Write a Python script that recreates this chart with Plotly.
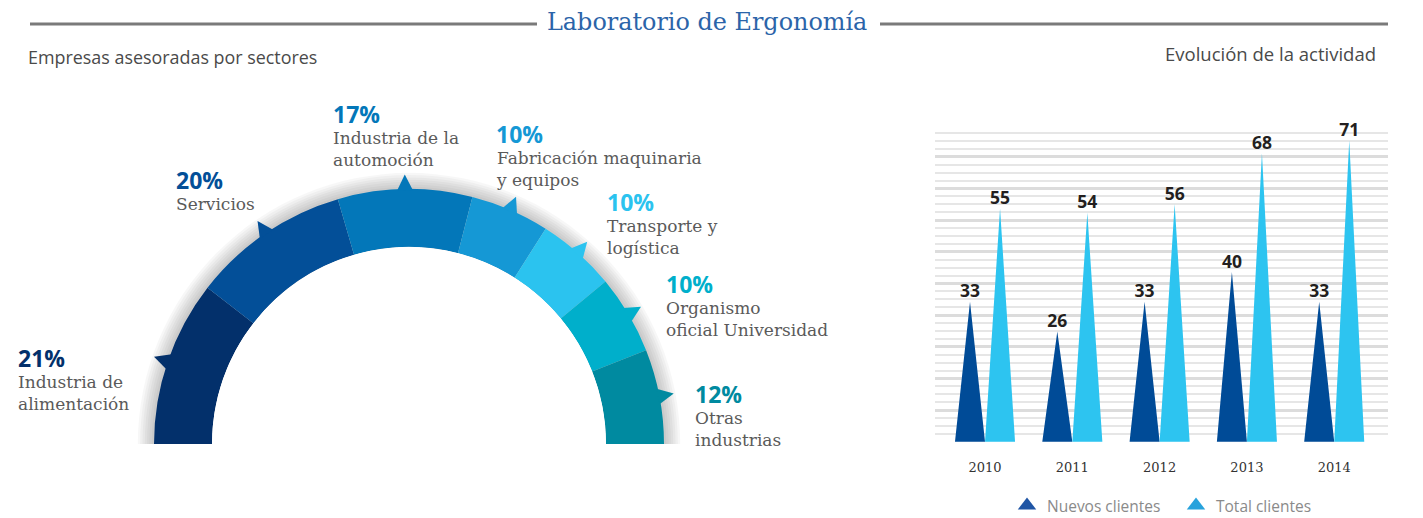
import plotly.graph_objects as go

W, H = 1423, 518

# ---------------- data ----------------
sectors = ["Industria de<br>alimentación", "Servicios", "Industria de la<br>automoción",
           "Fabricación maquinaria<br>y equipos", "Transporte y<br>logística",
           "Organismo<br>oficial Universidad", "Otras<br>industrias"]
shares = [21, 20, 17, 10, 10, 10, 12]
sector_colors = ["#03306b", "#034f98", "#0377b9", "#1598d5", "#2bc3ef", "#00afcb", "#008aa0"]

years = ["2010", "2011", "2012", "2013", "2014"]
nuevos_clientes = [33, 26, 33, 40, 33]
total_clientes = [55, 54, 56, 68, 71]

series_names = ["Nuevos clientes", "Total clientes"]
series_colors = ["#004b97", "#2dc4f0"]
legend_colors = ["#1f55a5", "#27a2dc"]


def px_x(x):
    return x / W


def px_y(y):
    return 1 - y / H


fig = go.Figure()

# ---------------- half donut (polar, upper sector) ----------------
CX, CY, R_OUT, R_IN = 409, 444, 255, 197
RMAX = 1.3
unit = R_OUT - R_IN
r_dom = R_IN + RMAX * unit
hole = R_IN / r_dom

tot = sum(shares)
spans = [s / tot * 180 for s in shares]
mids = []
acc = 0
for sp in spans:
    mids.append(acc + sp / 2)
    acc += sp

# soft shadow
for k in range(1, 8):
    fig.add_trace(go.Barpolar(r=[1 + 0.04 * k], theta=[90], width=[180],
                              marker=dict(color="rgba(0,0,0,0.03)", line=dict(width=0)),
                              subplot="polar", hoverinfo="skip", showlegend=False))

fig.add_trace(go.Barpolar(r=[1] * len(shares), theta=mids, width=spans,
                          marker=dict(color=sector_colors, line=dict(width=0)),
                          subplot="polar", showlegend=False, hoverinfo="skip"))
# small outward spikes (arrow-up: tip at the marker position)
SPIKE = 16
fig.add_trace(go.Scatterpolar(r=[1 + (SPIKE - 1.5) / unit] * len(shares), theta=mids, mode="markers",
                              marker=dict(symbol="arrow-up", size=SPIKE, color=sector_colors,
                                          angle=[m - 90 for m in mids], line=dict(width=0)),
                              subplot="polar", showlegend=False, hoverinfo="skip", cliponaxis=False))

# ---------------- spike bar chart ----------------
TW = 0.344


def tri(values, left):
    xs, ys = [], []
    for i, v in enumerate(values):
        x0 = i - TW if left else i
        xs += [x0, x0 + TW / 2, x0 + TW, x0, None]
        ys += [0, v, 0, 0, None]
    return xs, ys


for vals, left, name, col in [(nuevos_clientes, True, series_names[0], series_colors[0]),
                              (total_clientes, False, series_names[1], series_colors[1])]:
    xs, ys = tri(vals, left)
    fig.add_trace(go.Scatter(x=xs, y=ys, mode="lines", fill="toself", fillcolor=col,
                             line=dict(width=0, color=col), showlegend=False, hoverinfo="skip"))
    apex = [i + (-TW / 2 if left else TW / 2) for i in range(len(vals))]
    fig.add_trace(go.Scatter(x=apex, y=vals, mode="text", text=[str(v) for v in vals],
                             textposition="top center", cliponaxis=False,
                             textfont=dict(family="Open Sans", size=17.5, color="#231f20", weight="bold"),
                             showlegend=False, hoverinfo="skip"))

for name, col in zip(series_names, legend_colors):
    fig.add_trace(go.Scatter(x=[None], y=[None], mode="markers", name=name,
                             marker=dict(symbol="triangle-up", size=16, color=col)))

Y_MAX = 74.6
fig.update_layout(
    xaxis=dict(domain=[px_x(935), px_x(1388)], range=[-0.573, 4.616],
               tickvals=list(range(len(years))), ticktext=years,
               showgrid=False, zeroline=False, showline=False, ticks="",
               tickfont=dict(family="DejaVu Serif", size=13, color="#333333"),
               ticklabelstandoff=16, fixedrange=True),
    yaxis=dict(domain=[px_y(442), px_y(125)], range=[-0.05, Y_MAX + 0.05],
               tick0=0, dtick=Y_MAX / 10, showticklabels=False, ticks="",
               showgrid=True, gridcolor="#dcdcdc", gridwidth=3,
               minor=dict(tick0=0, dtick=Y_MAX / 40, showgrid=True, gridcolor="#e6e6e6", gridwidth=2),
               zeroline=False, showline=False, fixedrange=True),
    polar=dict(domain=dict(x=[px_x(CX - r_dom), px_x(CX + r_dom)],
                           y=[(H - CY) / H, (H - CY + r_dom) / H]),
               sector=[0, 180], hole=hole, bgcolor="rgba(0,0,0,0)", barmode="overlay",
               radialaxis=dict(range=[0, RMAX], visible=False, showgrid=False),
               angularaxis=dict(rotation=180, direction="clockwise", visible=False, showgrid=False)),
    legend=dict(orientation="h", x=px_x(1007), y=px_y(506), xanchor="left", yanchor="middle",
                font=dict(family="Open Sans", size=15.5, color="#8a8a8a"),
                entrywidth=124, entrywidthmode="pixels", bgcolor="rgba(0,0,0,0)"),
    width=W, height=H, margin=dict(l=0, r=0, t=0, b=0, autoexpand=False),
    paper_bgcolor="white", plot_bgcolor="rgba(0,0,0,0)",
)

# ---------------- texts ----------------
ann = []
ann.append(dict(text="Laboratorio de Ergonomía", x=px_x(707), y=px_y(22), xanchor="center",
                yanchor="middle", font=dict(family="DejaVu Serif", size=23.9, color="#2b64a9")))
ann.append(dict(text="Empresas asesoradas por sectores", x=px_x(26), y=px_y(57), xanchor="left",
                yanchor="middle", font=dict(family="Open Sans", size=17.9, color="#4a4a4a")))
ann.append(dict(text="Evolución de la actividad", x=px_x(1378), y=px_y(53), xanchor="right",
                yanchor="middle", font=dict(family="Open Sans", size=18.5, color="#4a4a4a")))

label_pos = [(16, 358), (174, 180), (331, 114), (494, 134), (605, 202), (664, 284), (693, 394)]
for (lx, ly), s, name, col in zip(label_pos, shares, sectors, sector_colors):
    ann.append(dict(text=f"{s}%", x=px_x(lx), y=px_y(ly), xanchor="left", yanchor="middle",
                    font=dict(family="Open Sans", size=23, color=col, weight="bold")))
    ann.append(dict(text=name, x=px_x(lx), y=px_y(ly + 12), xanchor="left", yanchor="top",
                    align="left", font=dict(family="DejaVu Serif", size=17, color="#5a5a5a")))

for a in ann:
    a.update(xref="paper", yref="paper", showarrow=False)
fig.update_layout(annotations=ann)

fig.update_layout(shapes=[
    dict(type="line", xref="paper", yref="paper", x0=px_x(30), x1=px_x(537), y0=px_y(24), y1=px_y(24),
         line=dict(color="#7a7a7a", width=3)),
    dict(type="line", xref="paper", yref="paper", x0=px_x(880), x1=px_x(1388), y0=px_y(24), y1=px_y(24),
         line=dict(color="#7a7a7a", width=3)),
])

fig.write_html("out.html", config={"displayModeBar": False},
               post_script="document.body.style.margin='0';document.documentElement.style.overflow='hidden';")
